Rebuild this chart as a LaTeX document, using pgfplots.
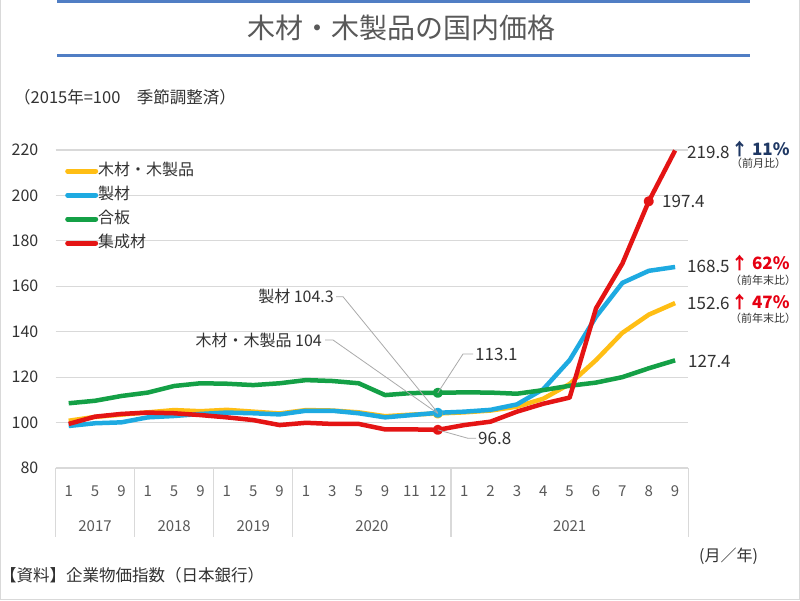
\documentclass[border=0pt]{standalone}
\usepackage{fontspec}
\setmainfont{Noto Sans CJK JP}
\usepackage{pgfplots}
\pgfplotsset{compat=1.18}
\definecolor{cYel}{RGB}{255,190,20}
\definecolor{cBlu}{RGB}{30,170,225}
\definecolor{cGrn}{RGB}{20,160,70}
\definecolor{cRed}{RGB}{228,20,20}
\definecolor{cTitle}{RGB}{80,126,196}
\definecolor{cGray}{RGB}{89,89,89}
\definecolor{cDark}{RGB}{50,50,50}
\definecolor{cGrid}{RGB}{217,217,217}
\definecolor{cLead}{RGB}{170,170,170}
\definecolor{cNavy}{RGB}{31,56,100}
\definecolor{cPct}{RGB}{230,0,18}
\newcommand{\fs}[1]{\fontsize{#1}{#1}\selectfont}
\begin{document}
\begin{tikzpicture}
\path[use as bounding box] (0pt,0pt) rectangle (800pt,600pt);
\fill[white] (0pt,0pt) rectangle (800pt,600pt);
\draw[cGrid, line width=1pt] (0.5pt,600pt) -- (0.5pt,0.5pt) -- (799.5pt,0.5pt) -- (799.5pt,600pt);
% title
\draw[cTitle, line width=3pt] (57pt,598.5pt) -- (750pt,598.5pt);
\draw[cTitle, line width=3pt] (57pt,544pt) -- (750pt,544pt);
\node[text=cGray, font=\fs{28}, inner sep=0pt] at (401pt,572pt) {木材・木製品の国内価格};
\node[anchor=west, text=cDark, font=\fs{16.5}, inner sep=0pt] at (14pt,503pt) {（2015年=100　季節調整済）};
\node[anchor=west, text=cDark, font=\fs{16.5}, inner sep=0pt] at (0pt,25pt) {【資料】企業物価指数（日本銀行）};
\node[anchor=west, text=cDark, font=\fs{16}, inner sep=0pt] at (699pt,43.5pt) {(月／年)};

\begin{axis}[
  at={(55.5pt,132pt)}, anchor=south west, scale only axis,
  width=632.8pt, height=318pt,
  xmin=-0.5, xmax=23.5, ymin=80, ymax=220,
  axis line style={draw=none},
  /pgf/number format/assume math mode=true,
  ytick={80,100,...,220},
  ymajorgrids, grid style={cGrid, line width=1.2pt},
  xtick={0,...,23},
  xticklabels={1,5,9,1,5,9,1,5,9,1,3,5,9,11,12,1,2,3,4,5,6,7,8,9},
  major tick length=0pt,
  xticklabel style={text=cGray, font=\fs{15}, anchor=center, inner sep=0pt, yshift=-23pt},
  yticklabel style={text=cDark, font=\fs{16}, anchor=east, inner sep=0pt, xshift=-17pt},
  clip=false,
  legend cell align=left,
  legend style={at={(0.015,0.958)}, anchor=north west, draw=none, fill=none,
    font=\fs{16}, text=cDark, inner sep=0pt, row sep=9pt,
    nodes={inner sep=0pt, text height=12pt, text depth=3pt}},
  legend image code/.code={\draw[#1, line width=5pt, line cap=round] (2pt,0pt) -- (30pt,0pt);},
  every axis plot/.append style={line width=4.5pt, line join=round},
]
\addplot[cYel] coordinates {
(0,100.8) (1,102.5) (2,103.5) (3,104.5) (4,105.5) (5,105.0) (6,105.6) (7,104.8)
(8,104.0) (9,105.5) (10,105.3) (11,104.5) (12,102.8) (13,103.5) (14,104.0)
(15,104.5) (16,105.3) (17,107.0) (18,110.5) (19,117.0) (20,127.5) (21,139.5) (22,147.5) (23,152.6)};
\addlegendentry{木材・木製品}
\addplot[cBlu] coordinates {
(0,98.5) (1,99.7) (2,100.1) (3,102.3) (4,102.9) (5,103.8) (6,104.4) (7,104.1)
(8,103.6) (9,105.2) (10,105.2) (11,104.1) (12,102.3) (13,103.3) (14,104.3)
(15,104.8) (16,105.6) (17,108.0) (18,114.7) (19,127.5) (20,146.6) (21,161.5) (22,166.8) (23,168.5)};
\addlegendentry{製材}
\addplot[cGrn] coordinates {
(0,108.5) (1,109.6) (2,111.7) (3,113.2) (4,116.1) (5,117.3) (6,117.1) (7,116.5)
(8,117.3) (9,118.7) (10,118.3) (11,117.3) (12,112.1) (13,113.0) (14,113.1)
(15,113.3) (16,113.2) (17,112.7) (18,114.3) (19,116.2) (20,117.6) (21,120.0) (22,123.9) (23,127.4)};
\addlegendentry{合板}
\addplot[cRed] coordinates {
(0,99.4) (1,102.6) (2,103.8) (3,104.4) (4,104.1) (5,103.3) (6,102.3) (7,101.1)
(8,98.9) (9,99.9) (10,99.4) (11,99.4) (12,97.0) (13,97.0) (14,96.8)
(15,98.9) (16,100.4) (17,104.8) (18,108.3) (19,111.0) (20,150.3) (21,170.0) (22,197.4) (23,219.8)};
\addlegendentry{集成材}
% markers
\addplot[cYel, only marks, mark=*, mark size=2.8pt, forget plot] coordinates {(14,104.0)};
\addplot[cBlu, only marks, mark=*, mark size=2.8pt, forget plot] coordinates {(14,104.3)};
\addplot[cGrn, only marks, mark=*, mark size=2.8pt, forget plot] coordinates {(14,113.1)};
\addplot[cRed, only marks, mark=*, mark size=2.8pt, forget plot] coordinates {(14,96.8) (22,197.4)};
% anchor coordinates for leaders
\coordinate (pY) at (axis cs:14,104.0);
\coordinate (pB) at (axis cs:14,104.3);
\coordinate (pG) at (axis cs:14,113.1);
\coordinate (pR) at (axis cs:14,96.8);
% category box
\draw[cGrid, line width=1.2pt] (axis cs:-0.5,80) -- ++(0pt,-69pt);
\draw[cGrid, line width=1.2pt] (axis cs:2.5,80) -- ++(0pt,-69pt);
\draw[cGrid, line width=1.2pt] (axis cs:5.5,80) -- ++(0pt,-69pt);
\draw[cGrid, line width=1.2pt] (axis cs:8.5,80) -- ++(0pt,-69pt);
\draw[cGrid, line width=1.2pt] (axis cs:14.5,80) -- ++(0pt,-69pt);
\draw[cGrid, line width=1.2pt] (axis cs:23.5,80) -- ++(0pt,-69pt);
\node[text=cGray, font=\fs{15}, inner sep=0pt, yshift=-58pt] at (axis cs:1,80) {2017};
\node[text=cGray, font=\fs{15}, inner sep=0pt, yshift=-58pt] at (axis cs:4,80) {2018};
\node[text=cGray, font=\fs{15}, inner sep=0pt, yshift=-58pt] at (axis cs:7,80) {2019};
\node[text=cGray, font=\fs{15}, inner sep=0pt, yshift=-58pt] at (axis cs:11.5,80) {2020};
\node[text=cGray, font=\fs{15}, inner sep=0pt, yshift=-58pt] at (axis cs:19,80) {2021};
\end{axis}
% leaders and annotations
\draw[cLead, line width=0.8pt] (pB) -- (343pt,303.3pt) -- (336pt,303.3pt);
\node[anchor=east, text=cDark, font=\fs{16}, inner sep=0pt] at (334pt,303.3pt) {製材 104.3};
\draw[cLead, line width=0.8pt] (pY) -- (333pt,260pt) -- (325pt,260pt);
\node[anchor=east, text=cDark, font=\fs{16}, inner sep=0pt] at (322pt,260pt) {木材・木製品 104};
\draw[cLead, line width=0.8pt] (pG) -- (463pt,246pt) -- (473pt,246pt);
\node[anchor=west, text=cDark, font=\fs{17}, inner sep=0pt] at (475pt,246pt) {113.1};
\draw[cLead, line width=0.8pt] (pR) -- (468pt,161.7pt) -- (476pt,161.7pt);
\node[anchor=west, text=cDark, font=\fs{17}, inner sep=0pt] at (478pt,161.7pt) {96.8};
\node[anchor=west, text=cDark, font=\fs{17}, inner sep=0pt] at (687pt,447.3pt) {219.8};
\node[anchor=west, text=cDark, font=\fs{17}, inner sep=0pt] at (662pt,398.3pt) {197.4};
\node[anchor=west, text=cDark, font=\fs{17}, inner sep=0pt] at (687pt,333.3pt) {168.5};
\node[anchor=west, text=cDark, font=\fs{17}, inner sep=0pt] at (687pt,296.7pt) {152.6};
\node[anchor=west, text=cDark, font=\fs{17}, inner sep=0pt] at (688pt,238.3pt) {127.4};
\node[anchor=west, text=cNavy, font=\fs{17}\bfseries, inner sep=0pt] at (731pt,451pt) {↑ 11\%};
\node[anchor=west, text=cDark, font=\fs{11}, inner sep=0pt] at (731pt,436.7pt) {（前月比）};
\node[anchor=west, text=cPct, font=\fs{17}\bfseries, inner sep=0pt] at (731pt,336.7pt) {↑ 62\%};
\node[anchor=west, text=cDark, font=\fs{11}, inner sep=0pt] at (730pt,320pt) {（前年末比）};
\node[anchor=west, text=cPct, font=\fs{17}\bfseries, inner sep=0pt] at (731pt,298.3pt) {↑ 47\%};
\node[anchor=west, text=cDark, font=\fs{11}, inner sep=0pt] at (730pt,281.7pt) {（前年末比）};
\end{tikzpicture}
\end{document}
